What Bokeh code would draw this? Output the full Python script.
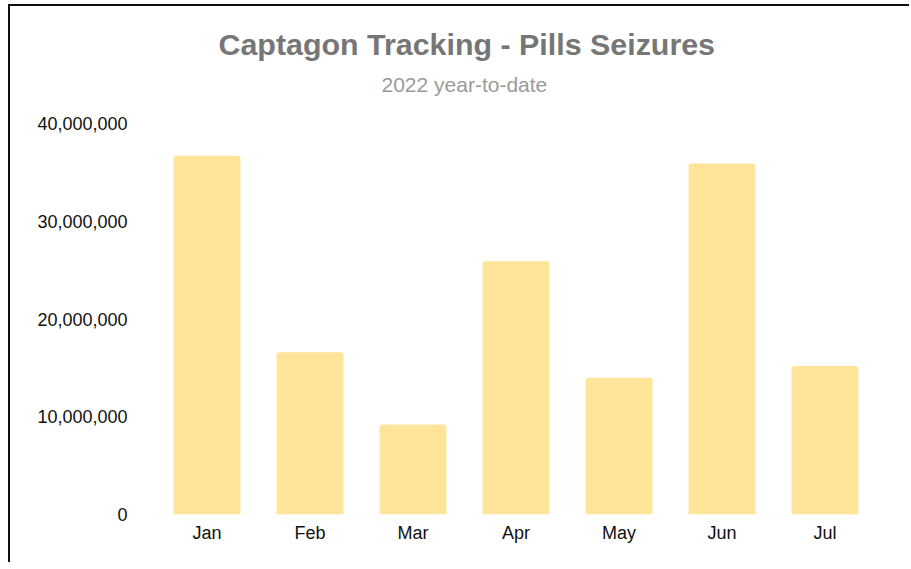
from bokeh.plotting import figure
from bokeh.models import FactorRange, Range1d, SingleIntervalTicker, NumeralTickFormatter, Title, ColumnDataSource
from bokeh.embed import file_html
from bokeh.resources import INLINE

months = ["Jan", "Feb", "Mar", "Apr", "May", "Jun", "Jul"]
seizures = [36700000, 16600000, 9200000, 25900000, 14000000, 35900000, 15200000]
y_ticks = [0, 10000000, 20000000, 30000000, 40000000]

title_text = "Captagon Tracking - Pills Seizures"
subtitle_text = "2022 year-to-date"

src = ColumnDataSource(dict(month=months, value=seizures))

p = figure(
    x_range=FactorRange(factors=months, range_padding=0),
    y_range=Range1d(0, 40000000),
    width=901, height=558,
    output_backend="svg", toolbar_location=None,
    min_border_left=145, min_border_right=35, min_border_top=117, min_border_bottom=50,
    styles={"border-top": "2px solid #111", "border-left": "2px solid #111",
            "margin-top": "4px", "margin-left": "8px"},
)

p.vbar(x="month", top="value", source=src, width=0.65, fill_color="#FFE499",
       line_color=None, border_radius=(3, 3, 0, 0))

p.add_layout(Title(text=subtitle_text, align="left", offset=226, text_font="Liberation Sans",
                   text_font_size="21px", text_font_style="normal", text_color="#9a9a9a",
                   standoff=56), "above")
p.add_layout(Title(text=title_text, align="left", offset=63, text_font="Liberation Sans",
                   text_font_size="30.4px", text_font_style="bold", text_color="#767676",
                   standoff=-36), "above")

p.xgrid.grid_line_color = None
p.ygrid.grid_line_color = None
p.outline_line_color = None

p.yaxis.ticker = SingleIntervalTicker(interval=10000000)
p.yaxis.formatter = NumeralTickFormatter(format="0,0")
for ax in (p.xaxis, p.yaxis):
    ax.axis_line_color = None
    ax.major_tick_line_color = None
    ax.minor_tick_line_color = None
    ax.major_label_text_font = "Liberation Sans"
    ax.major_label_text_font_size = "18px"
    ax.major_label_text_color = "#111111"
p.yaxis.major_label_standoff = 22
p.xaxis.major_label_standoff = 2

open("out.html", "w").write(file_html(p, INLINE))
